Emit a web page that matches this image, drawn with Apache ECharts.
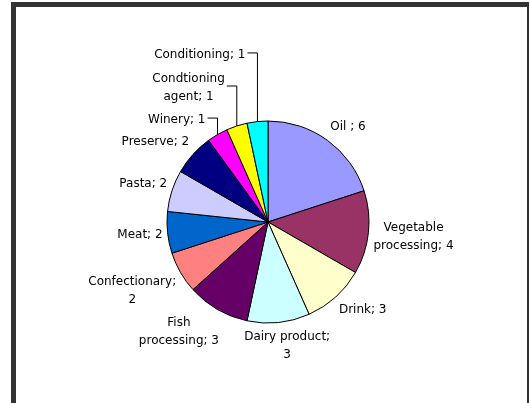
<!DOCTYPE html>
<html>
<head>
<meta charset="utf-8">
<script src="https://cdn.jsdelivr.net/npm/echarts@6/dist/echarts.min.js"></script>
<style>
html,body{margin:0;padding:0;background:#fff;}
#frame{position:absolute;left:11px;top:2px;width:511px;height:420px;border-left:5px solid #333;border-top:5px solid #333;border-right:2px solid #333;}
#chart{position:absolute;left:0;top:0;width:530px;height:403px;}
</style>
</head>
<body>
<div id="frame"></div>
<div id="chart"></div>
<script>
// Data (clockwise from 12 o'clock)
const categories = ['Oil ', 'Vegetable\nprocessing', 'Drink', 'Dairy product', 'Fish\nprocessing', 'Confectionary', 'Meat', 'Pasta', 'Preserve', 'Winery', 'Condtioning\nagent', 'Conditioning'];
const labelBreakAfterSemicolon = [false, false, false, true, false, true, false, false, false, false, false, false];
const values = [6, 4, 3, 3, 3, 2, 2, 2, 2, 1, 1, 1];
const colors = ['#9999FF', '#993366', '#FFFFCC', '#CCFFFF', '#660066', '#FF8080', '#0066CC', '#CCCCFF', '#000080', '#FF00FF', '#FFFF00', '#00FFFF'];
const leaderItems = [false, false, false, false, false, false, false, false, false, true, true, true];
const leaderLen1 = [0, 0, 0, 0, 0, 0, 0, 0, 0, 19, 42, 69];

const CX = 268, CY = 222, R = 101, GAP = 5, K = 1.8, LEADER2 = 10;
const total = values.reduce((a, b) => a + b, 0);
const midAngles = [];
let acc = 0;
values.forEach(v => { midAngles.push((acc + v / 2) / total * 2 * Math.PI); acc += v; });

function labelText(i) {
  const sep = labelBreakAfterSemicolon[i] ? ';\n' : '; ';
  const txt = categories[i] + sep + values[i];
  return txt.split('\n').map(l => '{c|' + l + '}').join('\n');
}

const data = values.map((v, i) => ({
  name: categories[i],
  value: v,
  itemStyle: { color: colors[i] },
  label: { formatter: labelText(i) },
  labelLine: { show: leaderItems[i], length: leaderLen1[i], length2: LEADER2 }
}));

const chart = echarts.init(document.getElementById('chart'), null, { renderer: 'canvas' });
chart.setOption({
  backgroundColor: 'transparent',
  animation: false,
  series: [{
    type: 'pie',
    center: [CX, CY],
    radius: R,
    startAngle: 90,
    clockwise: true,
    avoidLabelOverlap: false,
    data: data,
    itemStyle: { borderColor: '#000', borderWidth: 1 },
    emphasis: { disabled: true },
    label: {
      show: true,
      position: 'outside',
      color: '#000',
      fontFamily: 'DejaVu Sans',
      fontSize: 12,
      lineHeight: 18,
      distanceToLabelLine: 2,
      rich: { c: { align: 'center', color: '#000', fontFamily: 'DejaVu Sans', fontSize: 12, lineHeight: 18 } }
    },
    labelLine: { lineStyle: { color: '#000', width: 1 }, smooth: false },
    labelLayout: function (p) {
      const i = p.dataIndex;
      const a = midAngles[i];
      const ux = Math.sin(a), uy = -Math.cos(a);
      const w = p.labelRect.width, h = p.labelRect.height;
      if (leaderItems[i]) {
        const x0 = CX + R * ux, y0 = CY + R * uy;
        const yl = CY + (R + leaderLen1[i]) * uy;
        const x2 = x0 - LEADER2;
        return {
          x: x2 - 2 - w / 2,
          y: yl + 2,
          align: 'center',
          verticalAlign: 'middle',
          labelLinePoints: [[x0, y0], [x0, yl], [x2, yl]]
        };
      }
      const sx = Math.max(-1, Math.min(1, ux * K));
      const sy = Math.max(-1, Math.min(1, uy * K));
      return {
        x: CX + (R + GAP) * ux + sx * w / 2,
        y: CY + (R + GAP) * uy + sy * h / 2,
        align: 'center',
        verticalAlign: 'middle'
      };
    }
  }]
});
</script>
</body>
</html>
